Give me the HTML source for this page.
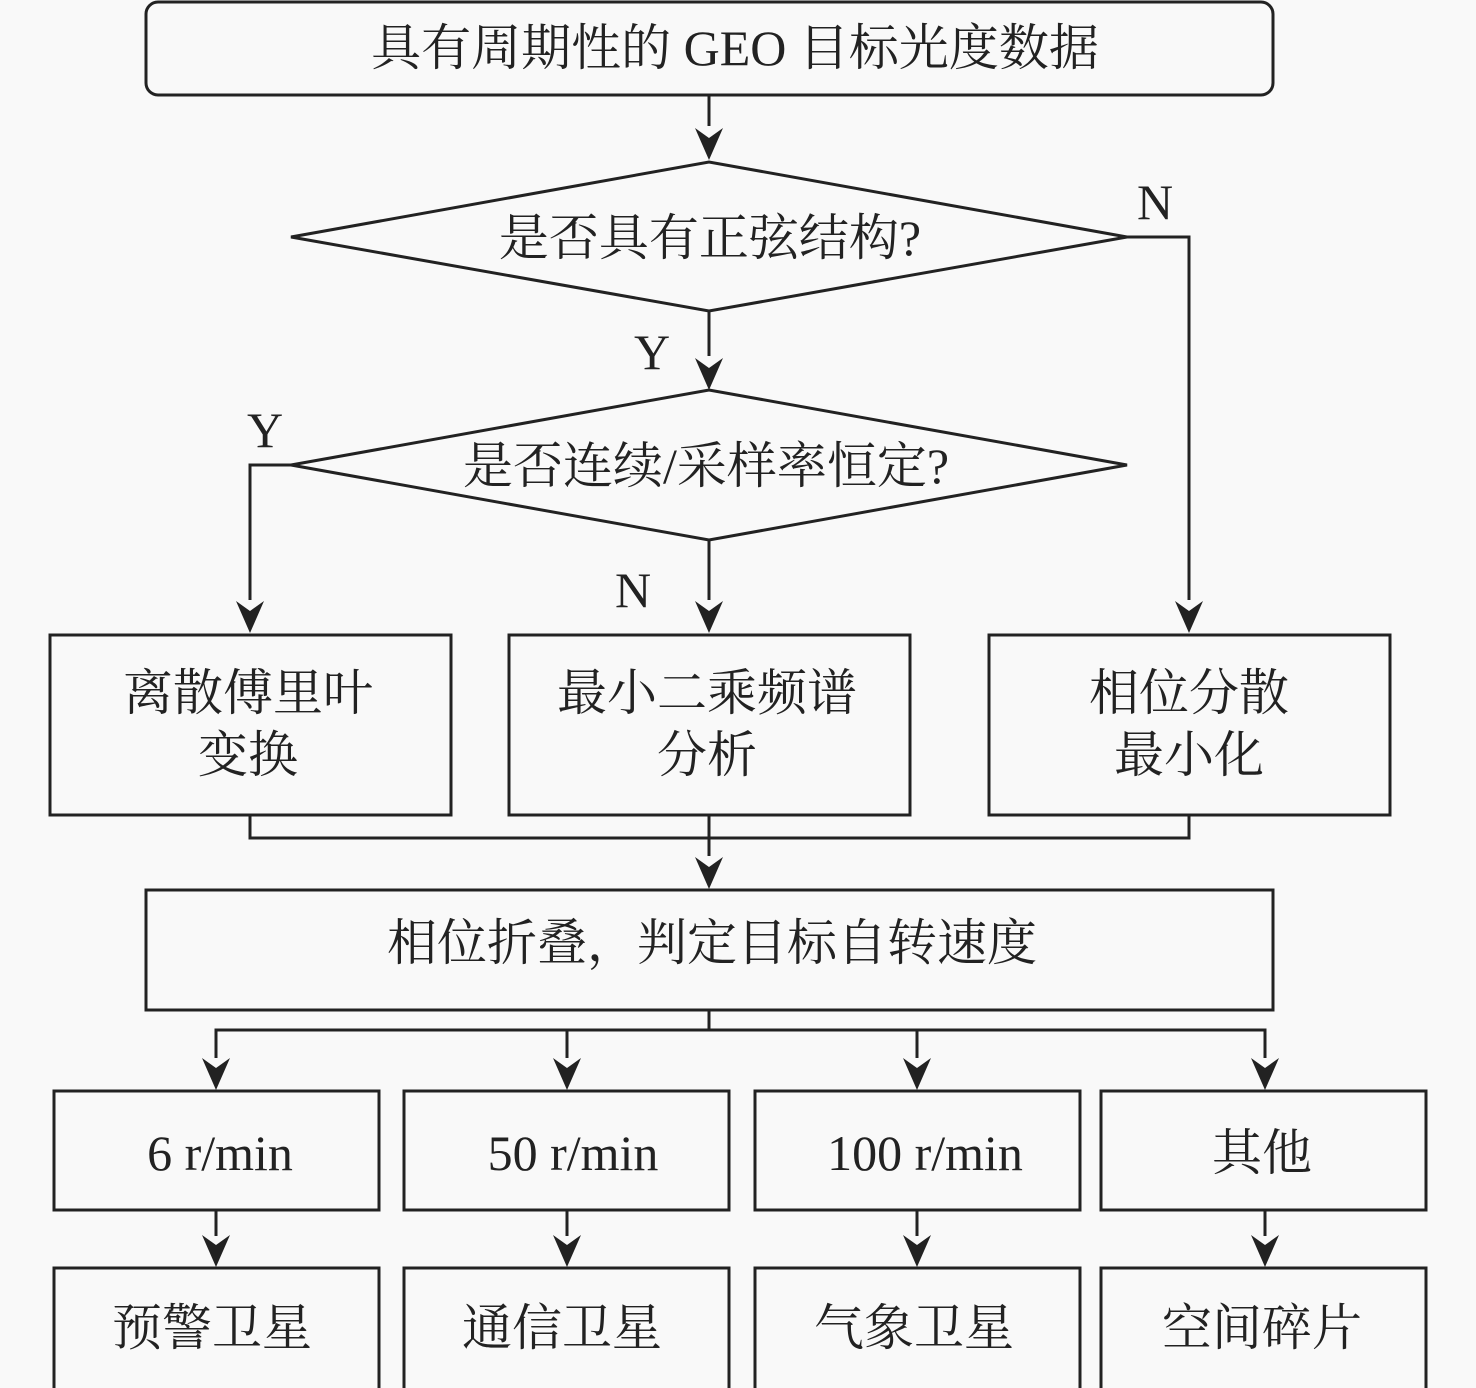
<!DOCTYPE html>
<html><head><meta charset="utf-8"><style>
html,body{margin:0;padding:0;background:#f9f9f9;}
svg{display:block}
text{font-family:"Liberation Serif","Noto Serif CJK SC",serif;font-size:50px;fill:#222;text-anchor:middle;dominant-baseline:central}
</style></head><body>
<svg width="1476" height="1388" viewBox="0 0 1476 1388">
<g stroke="#222" stroke-width="3" fill="none">
<rect x="146" y="2" width="1127" height="93" rx="12"/>
<polygon points="291,237 709,162 1127,237 709,311"/>
<polygon points="291,465 709,390 1127,465 709,540"/>
<rect x="50" y="635" width="401" height="180"/>
<rect x="509" y="635" width="401" height="180"/>
<rect x="989" y="635" width="401" height="180"/>
<rect x="146" y="890" width="1127" height="120"/>
<rect x="54" y="1091" width="325" height="119"/>
<rect x="404" y="1091" width="325" height="119"/>
<rect x="755" y="1091" width="325" height="119"/>
<rect x="1101" y="1091" width="325" height="119"/>
<rect x="54" y="1268" width="325" height="130"/>
<rect x="404" y="1268" width="325" height="130"/>
<rect x="755" y="1268" width="325" height="130"/>
<rect x="1101" y="1268" width="325" height="130"/>
</g>
<g stroke="#222" stroke-width="3" fill="none">
<line x1="709" y1="95" x2="709" y2="126"/>
<path d="M1127,237 H1189 V600"/>
<line x1="709" y1="311" x2="709" y2="356"/>
<path d="M291,465 H250 V600"/>
<line x1="709" y1="540" x2="709" y2="600"/>
<path d="M250,815 V838 H1189 V815"/>
<line x1="709" y1="815" x2="709" y2="856"/>
<path d="M709,1010 V1030"/>
<path d="M216,1058 V1030 H1265 V1058"/>
<line x1="567" y1="1030" x2="567" y2="1058"/>
<line x1="917" y1="1030" x2="917" y2="1058"/>
<line x1="216" y1="1210" x2="216" y2="1236"/>
<line x1="567" y1="1210" x2="567" y2="1236"/>
<line x1="917" y1="1210" x2="917" y2="1236"/>
<line x1="1265" y1="1210" x2="1265" y2="1236"/>
</g>
<g fill="#222">
<path d="M695,128 L709,138 L723,128 L709,160 Z"/>
<path d="M695,358 L709,368 L723,358 L709,390 Z"/>
<path d="M236,601 L250,611 L264,601 L250,633 Z"/>
<path d="M695,601 L709,611 L723,601 L709,633 Z"/>
<path d="M1175,601 L1189,611 L1203,601 L1189,633 Z"/>
<path d="M695,857 L709,867 L723,857 L709,889 Z"/>
<path d="M202,1058 L216,1068 L230,1058 L216,1090 Z"/>
<path d="M553,1058 L567,1068 L581,1058 L567,1090 Z"/>
<path d="M903,1058 L917,1068 L931,1058 L917,1090 Z"/>
<path d="M1251,1058 L1265,1068 L1279,1058 L1265,1090 Z"/>
<path d="M202,1235 L216,1245 L230,1235 L216,1267 Z"/>
<path d="M553,1235 L567,1245 L581,1235 L567,1267 Z"/>
<path d="M903,1235 L917,1245 L931,1235 L917,1267 Z"/>
<path d="M1251,1235 L1265,1245 L1279,1235 L1265,1267 Z"/>
</g>
<text x="735" y="48">具有周期性的 GEO 目标光度数据</text>
<text x="710" y="238">是否具有正弦结构?</text>
<text x="706" y="466">是否连续/采样率恒定?</text>
<text x="1155" y="202">N</text>
<text x="652" y="352">Y</text>
<text x="265" y="430">Y</text>
<text x="633" y="590">N</text>
<text x="248" y="693">离散傅里叶</text>
<text x="248" y="755">变换</text>
<text x="707" y="693">最小二乘频谱</text>
<text x="707" y="755">分析</text>
<text x="1189" y="693">相位分散</text>
<text x="1189" y="755">最小化</text>
<text x="712" y="943">相位折叠，判定目标自转速度</text>
<text x="220" y="1153">6 r/min</text>
<text x="573" y="1153">50 r/min</text>
<text x="925" y="1153">100 r/min</text>
<text x="1262" y="1153">其他</text>
<text x="212" y="1328">预警卫星</text>
<text x="562" y="1328">通信卫星</text>
<text x="914" y="1328">气象卫星</text>
<text x="1262" y="1328">空间碎片</text>
</svg>
</body></html>
